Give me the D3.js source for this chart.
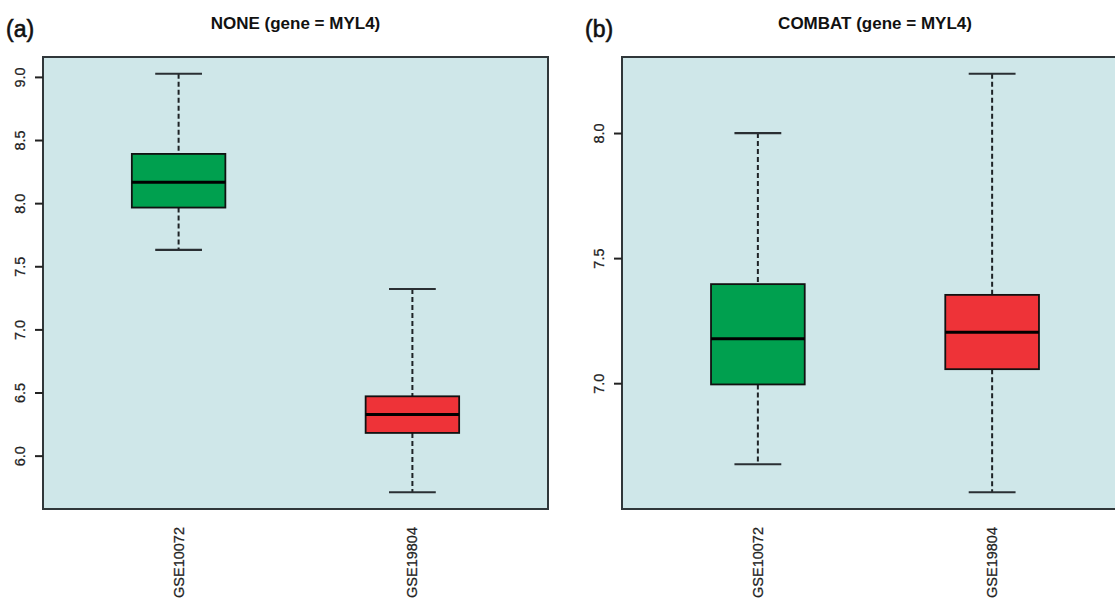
<!DOCTYPE html>
<html>
<head>
<meta charset="utf-8">
<script src="https://cdn.jsdelivr.net/npm/d3@7"></script>
<style>
  html, body { margin: 0; padding: 0; background: #ffffff; }
  svg { display: block; font-family: "Liberation Sans", Arial, Helvetica, sans-serif; }
</style>
</head>
<body>
<svg id="chart" width="1115" height="598"></svg>
<script>
// ---- data ----
const categories = ["GSE10072", "GSE19804"];
const boxColors = ["#00a04f", "#ee3338"];

const noneLower  = [7.63, 5.71];
const noneQ1     = [7.965, 6.18];
const noneMedian = [8.165, 6.325];
const noneQ3     = [8.39, 6.47];
const noneUpper  = [9.025, 7.32];
const noneTicks  = [6.0, 6.5, 7.0, 7.5, 8.0, 8.5, 9.0];

const combatLower  = [6.676, 6.564];
const combatQ1     = [6.995, 7.056];
const combatMedian = [7.178, 7.204];
const combatQ3     = [7.396, 7.353];
const combatUpper  = [8.0, 8.237];
const combatTicks  = [7.0, 7.5, 8.0];

const panels = [
  { tag: "(a)", title: "NONE (gene = MYL4)", lower: noneLower, q1: noneQ1, median: noneMedian, q3: noneQ3, upper: noneUpper, ticks: noneTicks,
    left: 43, right: 548, tagX: 6 },
  { tag: "(b)", title: "COMBAT (gene = MYL4)", lower: combatLower, q1: combatQ1, median: combatMedian, q3: combatQ3, upper: combatUpper, ticks: combatTicks,
    left: 622, right: 1128, tagX: 585 }
];

const plotTop = 57, plotBottom = 509;
const svg = d3.select("#chart");

panels.forEach(p => {
  const g = svg.append("g");
  // R-style 4% axis extension
  const lo = d3.min(p.lower), hi = d3.max(p.upper);
  const pad = (hi - lo) * 0.04;
  const y = d3.scaleLinear().domain([lo - pad, hi + pad]).range([plotBottom, plotTop]);
  const n = categories.length;
  const xPad = n * 0.04;
  const x = d3.scaleLinear().domain([0.5 - xPad, n + 0.5 + xPad]).range([p.left, p.right]);
  const unit = x(2) - x(1);
  const boxW = 0.4 * unit, capW = 0.2 * unit;

  // background
  g.append("rect").attr("x", p.left).attr("y", plotTop)
    .attr("width", p.right - p.left).attr("height", plotBottom - plotTop)
    .attr("fill", "#cfe7e9");

  categories.forEach((c, i) => {
    const cx = x(i + 1);
    // whiskers
    g.append("line").attr("x1", cx).attr("x2", cx).attr("y1", y(p.upper[i])).attr("y2", y(p.q3[i]))
      .attr("stroke", "#1e2326").attr("stroke-width", 2).attr("stroke-dasharray", "5,3");
    g.append("line").attr("x1", cx).attr("x2", cx).attr("y1", y(p.q1[i])).attr("y2", y(p.lower[i]))
      .attr("stroke", "#1e2326").attr("stroke-width", 2).attr("stroke-dasharray", "5,3");
    // caps
    [p.upper[i], p.lower[i]].forEach(v => {
      g.append("line").attr("x1", cx - capW / 2).attr("x2", cx + capW / 2).attr("y1", y(v)).attr("y2", y(v))
        .attr("stroke", "#2a2f33").attr("stroke-width", 2.2);
    });
    // box
    g.append("rect").attr("x", cx - boxW / 2).attr("y", y(p.q3[i]))
      .attr("width", boxW).attr("height", y(p.q1[i]) - y(p.q3[i]))
      .attr("fill", boxColors[i]).attr("stroke", "#111").attr("stroke-width", 1.8);
    // median
    g.append("line").attr("x1", cx - boxW / 2).attr("x2", cx + boxW / 2)
      .attr("y1", y(p.median[i])).attr("y2", y(p.median[i]))
      .attr("stroke", "#000").attr("stroke-width", 3);
    // x label
    g.append("text").attr("transform", `translate(${cx},${plotBottom + 18}) rotate(-90)`)
      .attr("text-anchor", "end").attr("dy", "0.35em")
      .attr("font-size", 14.5).attr("fill", "#222")
      .attr("stroke", "#222").attr("stroke-width", 0.25).text(c);
  });

  // border
  g.append("rect").attr("x", p.left).attr("y", plotTop)
    .attr("width", p.right - p.left).attr("height", plotBottom - plotTop)
    .attr("fill", "none").attr("stroke", "#30373a").attr("stroke-width", 2);

  // y axis
  const ax = g.append("g").attr("transform", `translate(${p.left},0)`)
    .call(d3.axisLeft(y).tickValues(p.ticks).tickFormat(d3.format(".1f")).tickSize(8).tickPadding(0));
  ax.select(".domain").remove();
  ax.selectAll(".tick line").attr("stroke", "#222").attr("stroke-width", 2);
  ax.selectAll(".tick text")
    .attr("x", null).attr("dy", null)
    .attr("transform", "translate(-18,0) rotate(-90)")
    .attr("text-anchor", "middle")
    .attr("font-size", 14.5).attr("fill", "#222")
    .attr("stroke", "#222").attr("stroke-width", 0.25)
    .attr("font-family", "'Liberation Sans', Arial, sans-serif");

  // titles
  g.append("text").attr("x", (p.left + p.right) / 2).attr("y", 29)
    .attr("text-anchor", "middle").attr("font-weight", "bold").attr("font-size", 17)
    .attr("fill", "#111").text(p.title);
  g.append("text").attr("x", p.tagX).attr("y", 37)
    .attr("font-size", 23).attr("fill", "#111")
    .attr("stroke", "#111").attr("stroke-width", 0.6).text(p.tag);
});
</script>
</body>
</html>
